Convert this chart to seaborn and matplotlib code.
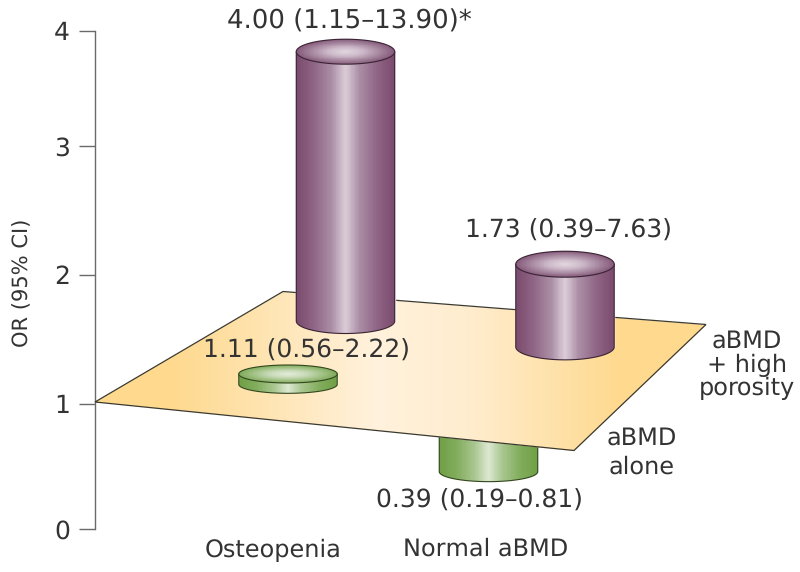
import numpy as np
import matplotlib
matplotlib.use("Agg")
import matplotlib.pyplot as plt
from matplotlib.colors import LinearSegmentedColormap
from matplotlib.patches import Polygon
import seaborn as sns

# ---- data ----
y_ticks = [0, 1, 2, 3, 4]
groups = ["Osteopenia", "Normal aBMD"]
or_labels = ["4.00 (1.15–13.90)*", "1.73 (0.39–7.63)", "1.11 (0.56–2.22)", "0.39 (0.19–0.81)"]
# cylinder ends as read against the printed axis
bar_tops = [3.82, 2.08, 1.23, 0.75]
bar_bases = [1.64, 1.44, 1.15, 0.459]
series_kind = ["purple", "purple", "green", "green"]

# ---- layout ----
W, H = 800, 572
TXT = "#333333"
AX = "#6a6a6a"
sns.set_style("white")
plt.rcParams["font.family"] = ["DejaVu Sans"]
plt.rcParams["text.hinting"] = "no_hinting"
plt.rcParams["text.hinting_factor"] = 1

KN_OR = [-0.34, 0, 1, 2, 3, 4, 4.27]
KN_PX = [572, 529.3, 403.7, 274.5, 146, 31, 0]
KN_UP = [H - p for p in KN_PX]


def fwd(v):
    v = np.asarray(v, float)
    return np.interp(v, KN_OR, KN_UP) + \
        np.where(v < KN_OR[0], (v - KN_OR[0]) * 125, 0) + np.where(v > KN_OR[-1], (v - KN_OR[-1]) * 115, 0)


def inv(u):
    u = np.asarray(u, float)
    return np.interp(u, KN_UP, KN_OR) + \
        np.where(u < KN_UP[0], (u - KN_UP[0]) / 125, 0) + np.where(u > KN_UP[-1], (u - KN_UP[-1]) / 115, 0)


def py(p):
    """Image row to axis value."""
    return inv(H - np.asarray(p, float))


def to_px(v):
    return H - fwd(v)


fig = plt.figure(figsize=(W / 100, H / 100), dpi=100)
ax = fig.add_axes([0, 0, 1, 1])
ax.set_yscale("function", functions=(fwd, inv))
ax.patch.set_alpha(0)

PAL = {
    "purple": dict(
        body=["#7a4a6d", "#8f6585", "#ab8ea6", "#dccdd9", "#ab8ea6", "#8f6585", "#7a4a6d"],
        top=["#e2d6df", "#cdb9c9", "#a5869e", "#85597a"],
        edge="#3a2434"),
    "green": dict(
        body=["#6f9f45", "#82ad5d", "#a9c68f", "#dde8d2", "#a9c68f", "#82ad5d", "#6f9f45"],
        top=["#e3ebda", "#cbdcbc", "#a3c286", "#7ea95a"],
        edge="#33471f"),
}
BODY_POS = [0, 0.18, 0.36, 0.5, 0.64, 0.82, 1]
centers = [345.5, 565, 288, 488.5]
widths = [98.5, 98.5, 98.5, 98.5]
rys = [12.5, 13, 9, 10]
zbase = [10, 10, 10, 1]
show_top = [True, True, True, False]


def cylinder(cx, w, top, base, kind, ry, z, with_top):
    pal = PAL[kind]
    sns.barplot(x=[cx], y=[top - base], bottom=base, width=w, native_scale=True,
                color=pal["body"][0], saturation=1, errorbar=None, ax=ax, zorder=z)
    bar = ax.patches[-1]
    x0, x1 = bar.get_x(), bar.get_x() + bar.get_width()
    ptop, pbase = float(to_px(bar.get_y() + bar.get_height())), float(to_px(bar.get_y()))
    rx = (x1 - x0) / 2
    cx_ = (x0 + x1) / 2
    t = np.linspace(0, np.pi, 80)
    # body outline: sides plus front arc of the base
    arc_x = cx_ - rx * np.cos(t)
    arc_y = pbase + ry * np.sin(t)
    out_x = np.r_[x0, arc_x, x1]
    out_y = np.r_[ptop, arc_y, ptop]
    body = Polygon(np.c_[out_x, py(out_y)], closed=True, fc="none", ec=pal["edge"], lw=0.8, zorder=z + 2)
    ax.add_patch(body)
    cmap = LinearSegmentedColormap.from_list("b", list(zip(BODY_POS, pal["body"])))
    xe = np.linspace(x0, x1, 121)
    ye = py(np.array([ptop - 1, pbase + ry + 1]))
    C = ((xe[:-1] + xe[1:]) / 2 - x0)[None, :] / (x1 - x0)
    m = ax.pcolormesh(xe, ye, C, cmap=cmap, vmin=0, vmax=1, zorder=z + 1, shading="flat")
    m.set_clip_path(body)
    if not with_top:
        return
    # top ellipse
    tt = np.linspace(0, 2 * np.pi, 160)
    ell = Polygon(np.c_[cx_ + rx * np.cos(tt), py(ptop + ry * np.sin(tt))], closed=True,
                  fc="none", ec=pal["edge"], lw=0.8, zorder=z + 4)
    ax.add_patch(ell)
    xg = np.linspace(x0, x1, 121)
    yg = np.linspace(ptop - ry - 1, ptop + ry + 1, 61)
    xc = (xg[:-1] + xg[1:]) / 2
    yc = (yg[:-1] + yg[1:]) / 2
    XX, YY = np.meshgrid(xc, yc)
    R = np.clip(np.sqrt(((XX - cx_) / rx) ** 2 + ((YY - ptop) / ry) ** 2), 0, 1)
    cm2 = LinearSegmentedColormap.from_list("t", list(zip([0, 0.35, 0.7, 1], pal["top"])))
    m2 = ax.pcolormesh(xg, py(yg), R, cmap=cm2, vmin=0, vmax=1, zorder=z + 3, shading="flat")
    m2.set_clip_path(ell)


for i in range(4):
    cylinder(centers[i], widths[i], bar_tops[i], bar_bases[i], series_kind[i], rys[i], zbase[i], show_top[i])

# reference plane at OR = 1
plane_x = [95, 283, 706, 574]
plane_y = [402, 291.5, 324.5, 450.5]
plane = Polygon(np.c_[plane_x, py(plane_y)], closed=True, fc="none", ec="#3b3a30", lw=0.9, zorder=7)
ax.add_patch(plane)
pc = LinearSegmentedColormap.from_list("p", [(0, "#fed98e"), (0.125, "#fed98e"), (0.46, "#fff1dc"),
                                             (0.62, "#ffeccd"), (0.86, "#fed98e"), (1, "#fed98e")])
xp = np.linspace(95, 706, 301)
Cp = ((xp[:-1] + xp[1:]) / 2 - 95)[None, :] / (706 - 95)
mp = ax.pcolormesh(xp, py(np.array([285, 455])), Cp, cmap=pc, vmin=0, vmax=1, zorder=6, shading="flat")
mp.set_clip_path(plane)

# axis
ax.set_xlim(0, W)
ax.set_ylim(KN_OR[0], KN_OR[-1])
ax.set_xticks([])
ax.set_xlabel("")
ax.set_ylabel("")
ax.set_yticks(y_ticks)
ax.set_yticklabels([str(v) for v in y_ticks])
ax.yaxis.set_minor_locator(plt.NullLocator())
for s in ["top", "right", "bottom"]:
    ax.spines[s].set_visible(False)
ax.spines["left"].set_position(("data", 95))
ax.spines["left"].set_bounds(0, 4)
ax.spines["left"].set_color(AX)
ax.spines["left"].set_linewidth(1.0)
ax.spines["left"].set_zorder(2)
ax.tick_params(axis="y", direction="out", length=11.5, width=1.0, color=AX, pad=6.5, left=True,
               labelsize=18, labelcolor=TXT)


def label(x, y, s, size, **kw):
    ax.text(x, float(py(y)), s, fontsize=size, color=TXT, ha="center", va="center", zorder=30, **kw)


label(349, 21, or_labels[0], 18.5)
label(568, 231, or_labels[1], 18)
label(306, 351, or_labels[2], 18)
label(479, 501, or_labels[3], 18)
label(273.5, 550, groups[0], 17)
label(486, 549, groups[1], 17)
label(22, 283, "OR (95% CI)", 15, rotation=90)
label(747, 341, "aBMD", 17)
label(747, 365, "+ high", 17)
label(747, 388, "porosity", 17)
label(642, 438, "aBMD", 17)
label(642, 467, "alone", 17)

fig.savefig("out.png", dpi=100)
